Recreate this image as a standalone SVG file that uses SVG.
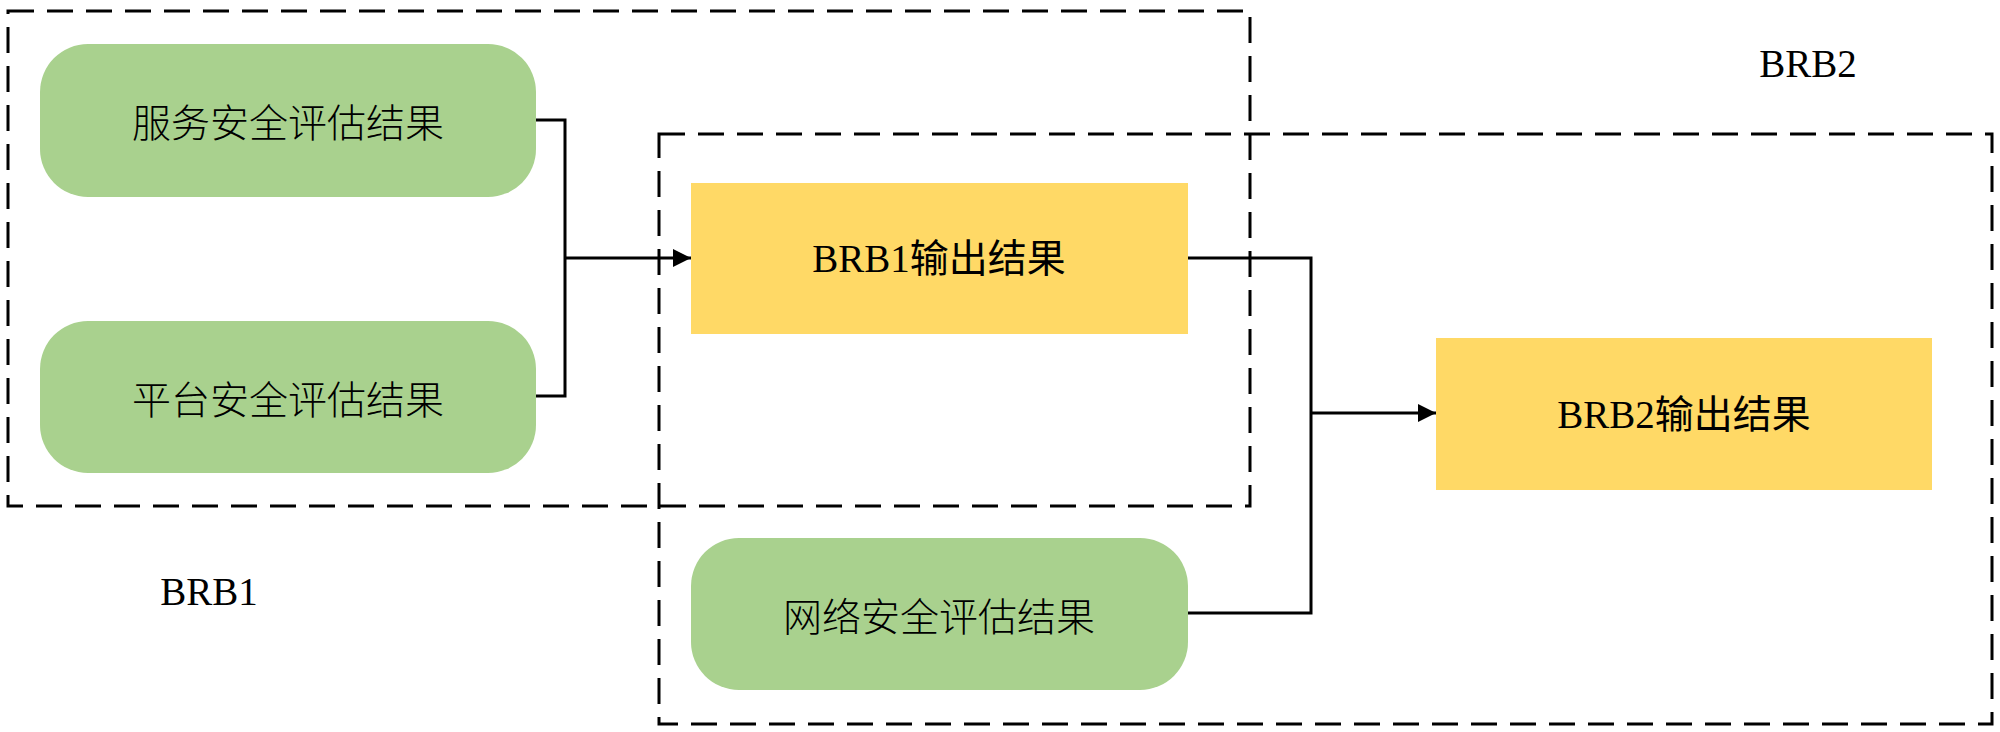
<svg xmlns="http://www.w3.org/2000/svg" width="2000" height="732" viewBox="0 0 2000 732">
<style>
.bg{fill:#ffffff}
.grp{fill:none;stroke:#000;stroke-width:3;stroke-dasharray:26 13}
.green{fill:#A9D18E}
.yellow{fill:#FFD966}
.conn{fill:none;stroke:#000;stroke-width:3}
.t{font-family:"Liberation Serif","Noto Sans CJK SC",serif;font-size:39px;fill:#000;text-anchor:middle;dominant-baseline:central}
.cjk{font-family:"Noto Sans CJK SC","Noto Sans",sans-serif;font-weight:300}
.lbl{font-family:"Liberation Serif",serif;font-size:39px;fill:#000;text-anchor:middle}
</style>
<defs>
<marker id="arr" viewBox="0 0 10 10" refX="10" refY="5" markerWidth="6" markerHeight="6" markerUnits="strokeWidth" orient="auto">
<path d="M0,0 L10,5 L0,10 z" fill="#000"/>
</marker>
</defs>
<rect class="bg" x="0" y="0" width="2000" height="732"/>
<g id="nodes">
<g id="n-service">
<rect class="green" x="40" y="44" width="496" height="153" rx="48" ry="48"/>
<text class="t cjk" x="288" y="120">服务安全评估结果</text>
</g>
<g id="n-platform">
<rect class="green" x="40" y="321" width="496" height="152" rx="48" ry="48"/>
<text class="t cjk" x="288" y="397">平台安全评估结果</text>
</g>
<g id="n-network">
<rect class="green" x="691" y="538" width="497" height="152" rx="48" ry="48"/>
<text class="t cjk" x="939" y="614">网络安全评估结果</text>
</g>
<g id="n-brb1out">
<rect class="yellow" x="691" y="183" width="497" height="151"/>
<text class="t" x="939" y="258">BRB1输出结果</text>
</g>
<g id="n-brb2out">
<rect class="yellow" x="1436" y="338" width="496" height="152"/>
<text class="t" x="1684" y="414">BRB2输出结果</text>
</g>
</g>
<g id="connectors">
<polyline class="conn" points="536,120 565,120 565,396 536,396"/>
<line class="conn" x1="565" y1="258" x2="691" y2="258" marker-end="url(#arr)"/>
<polyline class="conn" points="1188,258 1311,258 1311,613 1188,613"/>
<line class="conn" x1="1311" y1="413" x2="1436" y2="413" marker-end="url(#arr)"/>
</g>
<g id="groups">
<g id="brb1-group">
<rect class="grp" x="8" y="11" width="1242" height="495"/>
<text class="lbl" x="209" y="605">BRB1</text>
</g>
<g id="brb2-group">
<rect class="grp" x="659" y="134" width="1333" height="590"/>
<text class="lbl" x="1808" y="77">BRB2</text>
</g>
</g>
</svg>
